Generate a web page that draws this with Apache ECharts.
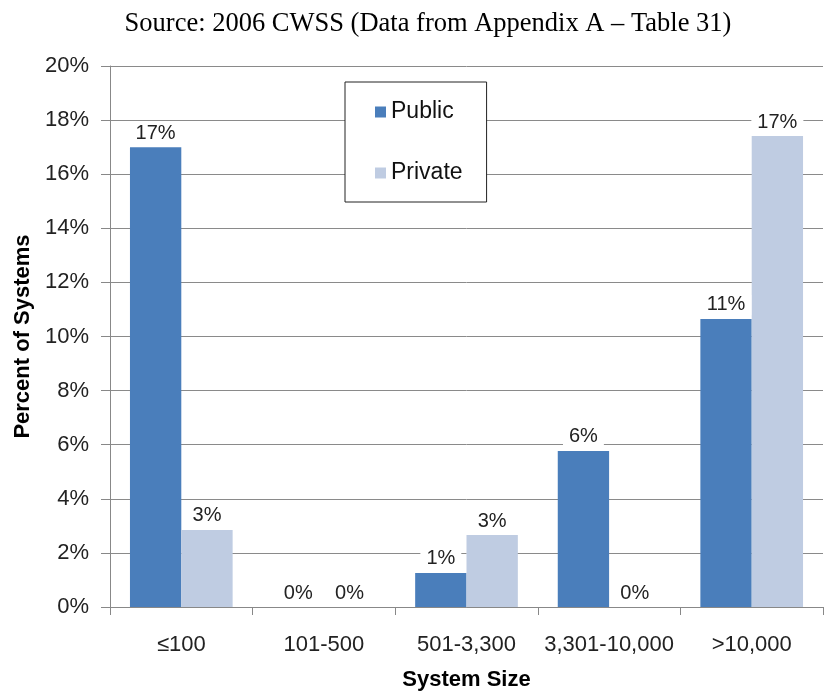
<!DOCTYPE html>
<html>
<head>
<meta charset="utf-8">
<script src="https://cdn.jsdelivr.net/npm/echarts@6/dist/echarts.min.js"></script>
<style>
  html, body { margin: 0; padding: 0; background: #fff; }
  #chart { width: 825px; height: 692px; }
</style>
</head>
<body>
<div id="chart"></div>
<script>
var categories = ['\u2264100', '101-500', '501-3,300', '3,301-10,000', '>10,000'];
var publicValues = [17.0, 0, 1.26, 5.77, 10.65];
var privateValues = [2.85, 0, 2.66, 0, 17.41];
var yTicks = [0, 2, 4, 6, 8, 10, 12, 14, 16, 18, 20];

var chart = echarts.init(document.getElementById('chart'));

function pctLabel(p) {
    return Math.round(p.value) + '%';
}

var labelStyle = {
    show: true,
    position: 'top',
    distance: 4,
    formatter: pctLabel,
    fontFamily: 'Liberation Sans',
    fontSize: 20,
    color: '#222',
    backgroundColor: '#fff',
    padding: [0, 6, 0, 6]
};

var option = {
    animation: false,
    backgroundColor: '#fff',
    title: {
        text: 'Source: 2006 CWSS (Data from Appendix A \u2013 Table 31)',
        left: 423,
        top: 6,
        textAlign: 'center',
        textStyle: {
            fontFamily: 'Liberation Serif',
            fontSize: 26.5,
            fontWeight: 'normal',
            color: '#000'
        }
    },
    legend: {
        orient: 'vertical',
        left: 345,
        top: 82,
        width: 148,
        padding: [17, 24, 16, 30],
        itemGap: 35,
        itemWidth: 11,
        itemHeight: 11,
        icon: 'rect',
        borderColor: '#222',
        borderWidth: 1,
        backgroundColor: '#fff',
        textStyle: {
            fontFamily: 'Liberation Sans',
            fontSize: 23,
            lineHeight: 26,
            color: '#111'
        },
        data: ['Public', 'Private']
    },
    grid: {
        left: 110,
        right: 2,
        top: 66,
        bottom: 85,
        outerBoundsMode: 'none'
    },
    xAxis: {
        type: 'category',
        data: categories,
        name: 'System Size',
        nameLocation: 'middle',
        nameGap: 62,
        nameTextStyle: {
            fontFamily: 'Liberation Sans',
            fontSize: 22,
            fontWeight: 'bold',
            color: '#000'
        },
        axisLine: { lineStyle: { color: '#888' } },
        axisTick: { show: true, alignWithLabel: false, length: 8, lineStyle: { color: '#888' } },
        axisLabel: {
            interval: 0,
            fontFamily: 'Liberation Sans',
            fontSize: 22,
            color: '#222',
            margin: 27
        }
    },
    yAxis: {
        type: 'value',
        min: yTicks[0],
        max: yTicks[yTicks.length - 1],
        interval: 2,
        name: 'Percent of Systems',
        nameLocation: 'middle',
        nameGap: 76,
        nameTextStyle: {
            fontFamily: 'Liberation Sans',
            fontSize: 22,
            fontWeight: 'bold',
            color: '#000'
        },
        axisLine: { show: true, lineStyle: { color: '#888' } },
        axisTick: { show: true, length: 9, lineStyle: { color: '#888' } },
        axisLabel: {
            formatter: '{value}%',
            fontFamily: 'Liberation Sans',
            fontSize: 22,
            color: '#222',
            margin: 21
        },
        splitLine: { lineStyle: { color: '#8a8a8a', width: 1 } }
    },
    series: [{
        name: 'Public',
        type: 'bar',
        data: publicValues,
        barGap: '0%',
        barCategoryGap: '28%',
        itemStyle: { color: '#4a7ebb' },
        label: labelStyle
    }, {
        name: 'Private',
        type: 'bar',
        data: privateValues,
        itemStyle: { color: '#bfcce2' },
        label: labelStyle
    }]
};

chart.setOption(option);
</script>
</body>
</html>
